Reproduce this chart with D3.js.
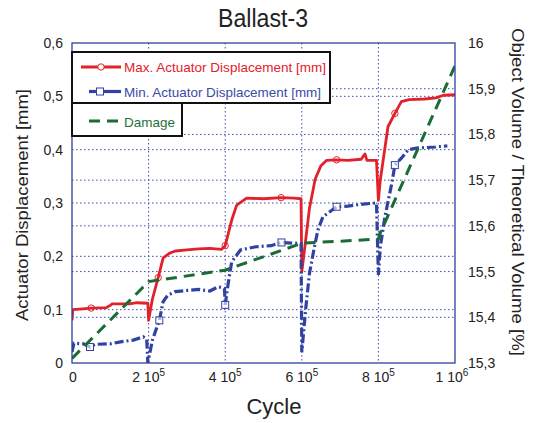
<!DOCTYPE html>
<html>
<head>
<meta charset="utf-8">
<script src="https://cdn.jsdelivr.net/npm/d3@7"></script>
<style>
  body { margin: 0; background: #fff; }
  svg { display: block; font-family: "Liberation Sans", Arial, sans-serif; }
</style>
</head>
<body>
<div id="chart"></div>
<script>
// cycles are stored in units of 10^5
const maxDisp = [
  [0, 0.08], [0.02, 0.1], [0.2, 0.101], [0.5, 0.103], [0.9, 0.104], [1.0, 0.108], [1.05, 0.111],
  [1.5, 0.111], [1.7, 0.113], [1.98, 0.112], [2.0, 0.08], [2.1, 0.12], [2.25, 0.16], [2.38, 0.197],
  [2.55, 0.206], [2.7, 0.21], [3.0, 0.212], [3.3, 0.214], [3.6, 0.215], [3.9, 0.213], [4.0, 0.22],
  [4.17, 0.268], [4.3, 0.296], [4.56, 0.309], [5.0, 0.308], [5.46, 0.31], [5.8, 0.309], [5.98, 0.308],
  [6.0, 0.171], [6.05, 0.2], [6.2, 0.29], [6.35, 0.345], [6.5, 0.37], [6.65, 0.38], [6.91, 0.381],
  [7.2, 0.38], [7.55, 0.382], [7.65, 0.392], [7.7, 0.38], [7.95, 0.38], [8.0, 0.305], [8.05, 0.343],
  [8.25, 0.443], [8.43, 0.468], [8.6, 0.49], [8.8, 0.494], [9.2, 0.495], [9.5, 0.497], [9.7, 0.502],
  [10, 0.503]
];
const minDisp = [
  [0, 0.021], [0.05, 0.037], [0.3, 0.036], [0.47, 0.03], [0.6, 0.035], [1.0, 0.036], [1.3, 0.04],
  [1.6, 0.043], [1.86, 0.049], [1.95, 0.045], [1.98, 0.0], [2.1, 0.043], [2.28, 0.08], [2.38, 0.115],
  [2.5, 0.127], [2.7, 0.134], [3.0, 0.136], [3.3, 0.138], [3.6, 0.135], [3.82, 0.143], [3.98, 0.14],
  [4.0, 0.109], [4.08, 0.15], [4.17, 0.19], [4.4, 0.212], [4.8, 0.218], [5.2, 0.22], [5.47, 0.226],
  [5.98, 0.224], [6.0, 0.02], [6.1, 0.1], [6.2, 0.168], [6.33, 0.218], [6.42, 0.249], [6.55, 0.274],
  [6.91, 0.293], [7.2, 0.294], [7.6, 0.298], [7.95, 0.3], [8.0, 0.165], [8.05, 0.218], [8.17, 0.274],
  [8.35, 0.337], [8.43, 0.371], [8.6, 0.384], [8.78, 0.4], [9.0, 0.403], [9.5, 0.405], [9.8, 0.407]
];
const damage = [
  [0, 15.31], [2, 15.478], [4, 15.503], [6, 15.562], [8, 15.571], [8.05, 15.585], [10, 15.95]
];
const maxMarkerCycles = [0.5, 2.25, 4.0, 5.46, 6.91, 8.43];
const minMarkerCycles = [0.47, 2.28, 4.0, 5.47, 6.91, 8.43];

const xTicks = [0, 2, 4, 6, 8, 10];
const xTickLabels = [["0", ""], ["2 10", "5"], ["4 10", "5"], ["6 10", "5"], ["8 10", "5"], ["1 10", "6"]];
const leftTicks = [0, 0.1, 0.2, 0.3, 0.4, 0.5, 0.6];
const leftTickLabels = ["0", "0,1", "0,2", "0,3", "0,4", "0,5", "0,6"];
const rightTicks = [15.3, 15.4, 15.5, 15.6, 15.7, 15.8, 15.9, 16];
const rightTickLabels = ["15,3", "15,4", "15,5", "15,6", "15,7", "15,8", "15,9", "16"];

const seriesNames = ["Max. Actuator Displacement [mm]", "Min. Actuator Displacement [mm]", "Damage"];

const W = 535, H = 423;
const plot = { left: 72, right: 455, top: 43, bottom: 363 };
const RED = "#e3212b", BLUE = "#3142a2", GREEN = "#1b6b36", FRAME = "#2f3f9f";

const svg = d3.select("#chart").append("svg").attr("width", W).attr("height", H);

const x = d3.scaleLinear().domain([0, 10]).range([plot.left, plot.right]);
const yL = d3.scaleLinear().domain([0, 0.6]).range([plot.bottom, plot.top]);
const yR = d3.scaleLinear().domain([15.3, 16]).range([plot.bottom, plot.top]);

// gridlines
const grid = svg.append("g").attr("stroke", "#3b4bb0").attr("stroke-width", 1)
  .attr("stroke-dasharray", "1.5,2.5");
grid.selectAll(".gx").data(xTicks.slice(1, -1)).enter().append("line")
  .attr("x1", d => x(d)).attr("x2", d => x(d)).attr("y1", plot.top).attr("y2", plot.bottom);
grid.selectAll(".gl").data(leftTicks.slice(1, -1)).enter().append("line")
  .attr("x1", plot.left).attr("x2", plot.right).attr("y1", d => yL(d)).attr("y2", d => yL(d));
grid.selectAll(".gr").data(rightTicks.slice(1, -1)).enter().append("line")
  .attr("x1", plot.left).attr("x2", plot.right).attr("y1", d => yR(d)).attr("y2", d => yR(d));

// data lines
svg.append("defs").append("clipPath").attr("id", "plotclip")
  .append("rect").attr("x", plot.left).attr("y", plot.top)
  .attr("width", plot.right - plot.left).attr("height", plot.bottom - plot.top);

const lineL = d3.line().x(d => x(d[0])).y(d => yL(d[1]));
const lineR = d3.line().x(d => x(d[0])).y(d => yR(d[1]));
const data = svg.append("g").attr("clip-path", "url(#plotclip)");

data.append("path").datum(maxDisp).attr("d", lineL)
  .attr("fill", "none").attr("stroke", RED).attr("stroke-width", 2.8).attr("stroke-linejoin", "round");
data.selectAll(".mc").data(maxMarkerCycles.map(c => maxDisp.find(p => p[0] === c))).enter()
  .append("circle").attr("cx", d => x(d[0])).attr("cy", d => yL(d[1])).attr("r", 3.2)
  .attr("fill", "none").attr("stroke", RED).attr("stroke-width", 1);

data.append("path").datum(minDisp).attr("d", lineL)
  .attr("fill", "none").attr("stroke", BLUE).attr("stroke-width", 3.2)
  .attr("stroke-dasharray", "9,3,2,3");
data.selectAll(".ms").data(minMarkerCycles.map(c => minDisp.find(p => p[0] === c))).enter()
  .append("rect").attr("x", d => x(d[0]) - 3.5).attr("y", d => yL(d[1]) - 3.5)
  .attr("width", 7).attr("height", 7)
  .attr("fill", "#fff").attr("fill-opacity", 0.6).attr("stroke", BLUE).attr("stroke-width", 1);

data.append("path").datum(damage).attr("d", lineR)
  .attr("fill", "none").attr("stroke", GREEN).attr("stroke-width", 3)
  .attr("stroke-dasharray", "11,7");

// frame
svg.append("rect").attr("x", plot.left).attr("y", plot.top)
  .attr("width", plot.right - plot.left).attr("height", plot.bottom - plot.top)
  .attr("fill", "none").attr("stroke", FRAME).attr("stroke-width", 1.3);

// tick labels
const tickFont = 14;
svg.append("g").selectAll("text").data(leftTicks).enter().append("text")
  .attr("x", 63).attr("y", d => yL(d)).attr("dy", "0.36em").attr("text-anchor", "end")
  .attr("font-size", tickFont).attr("fill", "#222").text((d, i) => leftTickLabels[i]);
svg.append("g").selectAll("text").data(rightTicks).enter().append("text")
  .attr("x", 468).attr("y", d => yR(d)).attr("dy", "0.36em").attr("text-anchor", "start")
  .attr("font-size", tickFont).attr("fill", "#222").text((d, i) => rightTickLabels[i]);
const xl = svg.append("g").selectAll("text").data(xTicks).enter().append("text")
  .attr("x", d => x(d) + (d === 0 ? 1 : d === 10 ? -3 : 0)).attr("y", 382).attr("text-anchor", "middle")
  .attr("font-size", tickFont).attr("fill", "#222");
xl.append("tspan").text((d, i) => xTickLabels[i][0]);
xl.append("tspan").attr("dy", -6).attr("font-size", 10).text((d, i) => xTickLabels[i][1]);

// titles
svg.append("text").attr("x", 263).attr("y", 27).attr("text-anchor", "middle")
  .attr("font-size", 26).attr("fill", "#222")
  .attr("textLength", 90).attr("lengthAdjust", "spacingAndGlyphs").text("Ballast-3");
svg.append("text").attr("x", 274).attr("y", 414).attr("text-anchor", "middle")
  .attr("font-size", 22).attr("fill", "#222").text("Cycle");
svg.append("text").attr("transform", "translate(28,205) rotate(-90)").attr("text-anchor", "middle")
  .attr("font-size", 16).attr("fill", "#222")
  .attr("textLength", 232).attr("lengthAdjust", "spacingAndGlyphs").text("Actuator Displacement [mm]");
svg.append("text").attr("transform", "translate(512,192) rotate(90)").attr("text-anchor", "middle")
  .attr("font-size", 16).attr("fill", "#222")
  .attr("textLength", 328).attr("lengthAdjust", "spacingAndGlyphs")
  .text("Object Volume / Theoretical Volume [%]");

// legend
const leg = svg.append("g");
leg.append("rect").attr("x", 72).attr("y", 52).attr("width", 258).attr("height", 51)
  .attr("fill", "#fff").attr("stroke", "#111").attr("stroke-width", 2);
leg.append("rect").attr("x", 72).attr("y", 103).attr("width", 110).attr("height", 33)
  .attr("fill", "#fff").attr("stroke", "#111").attr("stroke-width", 2);

leg.append("line").attr("x1", 81).attr("x2", 121).attr("y1", 67).attr("y2", 67)
  .attr("stroke", RED).attr("stroke-width", 2.8);
leg.append("circle").attr("cx", 101).attr("cy", 67).attr("r", 3.2)
  .attr("fill", "#fff").attr("stroke", RED).attr("stroke-width", 1);
leg.append("text").attr("x", 124).attr("y", 72).attr("font-size", 13).attr("fill", RED)
  .attr("textLength", 202).attr("lengthAdjust", "spacingAndGlyphs").text(seriesNames[0]);

leg.append("line").attr("x1", 89).attr("x2", 121).attr("y1", 91.5).attr("y2", 91.5)
  .attr("stroke", BLUE).attr("stroke-width", 3.2);
leg.append("rect").attr("x", 96.5).attr("y", 88).attr("width", 7).attr("height", 7)
  .attr("fill", "#fff").attr("stroke", BLUE).attr("stroke-width", 1);
leg.append("text").attr("x", 124).attr("y", 96.5).attr("font-size", 13).attr("fill", "#3a4aa6")
  .attr("textLength", 197).attr("lengthAdjust", "spacingAndGlyphs").text(seriesNames[1]);

leg.append("line").attr("x1", 89).attr("x2", 120).attr("y1", 121).attr("y2", 121)
  .attr("stroke", GREEN).attr("stroke-width", 3).attr("stroke-dasharray", "11,7");
leg.append("text").attr("x", 124).attr("y", 127).attr("font-size", 13).attr("fill", "#1f7139")
  .attr("textLength", 51).attr("lengthAdjust", "spacingAndGlyphs").text(seriesNames[2]);
</script>
</body>
</html>
